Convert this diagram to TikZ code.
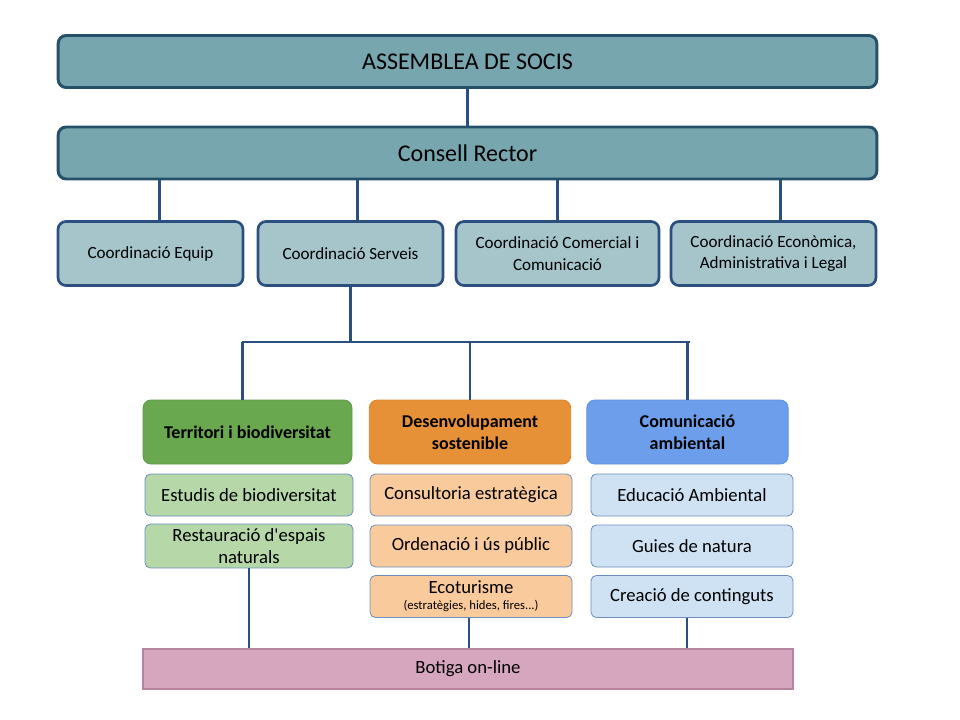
\documentclass[tikz,border=0pt]{standalone}
\usepackage{fontspec}
\setmainfont{Carlito}
\usepackage{xcolor}
\usetikzlibrary{shapes, positioning}

\definecolor{navy}{HTML}{2B4F7E}
\definecolor{headfill}{HTML}{78A6AF}
\definecolor{headline}{HTML}{24506A}
\definecolor{coordfill}{HTML}{A5C5CB}
\definecolor{terrfill}{HTML}{6AA84F}
\definecolor{terrline}{HTML}{5E9A47}
\definecolor{desfill}{HTML}{E69138}
\definecolor{desline}{HTML}{D8812C}
\definecolor{comfill}{HTML}{6D9EEB}
\definecolor{comline}{HTML}{5F8FDC}
\definecolor{terrsub}{HTML}{B6D7A8}
\definecolor{dessub}{HTML}{F9CB9C}
\definecolor{comsub}{HTML}{CFE2F3}
\definecolor{subline}{HTML}{6C8EBF}
\definecolor{botfill}{HTML}{D5A6BD}
\definecolor{botline}{HTML}{B784A0}

\begin{document}
\begin{tikzpicture}[x=0.75pt, y=-0.75pt,
    head/.style={rectangle, rounded corners=6pt, draw=headline, line width=2.2pt, fill=headfill, minimum width=614pt, minimum height=39pt, font=\fontsize{18}{20}\selectfont},
    coordbox/.style={rectangle, rounded corners=6pt, draw=navy, line width=2pt, fill=coordfill, minimum height=48pt, align=center, font=\fontsize{12.8}{16}\selectfont},
    cat/.style={rectangle, rounded corners=6pt, draw=#1, line width=0.6pt, minimum width=151pt, minimum height=48pt, align=center, font=\bfseries\fontsize{13.5}{16.5}\selectfont},
    sub/.style={rectangle, rounded corners=4pt, draw=subline, line width=0.6pt, fill=#1, minimum width=151.5pt, minimum height=31.5pt, align=center, font=\fontsize{14}{16}\selectfont},
    link/.style={draw=navy, line width=2.2pt}]
    \useasboundingbox (0,0) rectangle (960,720);

    % top
    \node[head] (assemblea) at (467.5, 61.5) {ASSEMBLEA DE SOCIS};
    \node[head] (consell) at (467.5, 153) {Consell Rector};

    % coordinacions
    \node[coordbox, minimum width=138.75pt] (equip) at (150.5, 253.5) {Coordinació Equip};
    \node[coordbox, minimum width=138.75pt] (serveis) at (350.5, 253.5) {Coordinació Serveis};
    \node[coordbox, minimum width=152.25pt] (comercial) at (557.5, 253.5) {Coordinació Comercial i\\Comunicació};
    \node[coordbox, minimum width=153.75pt] (economica) at (773.5, 253.5) {Coordinació Econòmica,\\Administrativa i Legal};

    % arees
    \node[cat=terrline, fill=terrfill, minimum width=156.75pt] (territori) at (247.5, 432) {Territori i biodiversitat};
    \node[cat=desline, fill=desfill] (desenv) at (470, 432) {Desenvolupament\\sostenible};
    \node[cat=comline, fill=comfill] (comunic) at (687.5, 432) {Comunicació\\ambiental};

    % serveis
    \node[sub=terrsub, minimum width=156pt] (estudis) at (249, 495) {Estudis de biodiversitat};
    \node[sub=terrsub, minimum width=156pt, font=\fontsize{14}{16.5}\selectfont] (restauracio) at (249, 546) {Restauració d\textquotesingle espais\\naturals};
    \node[sub=dessub] (consultoria) at (471, 495) {Consultoria estratègica};
    \node[sub=dessub] (ordenacio) at (471, 546) {Ordenació i ús públic};
    \node[sub=dessub, font=\fontsize{14}{12}\selectfont] (ecoturisme) at (471, 596.5) {Ecoturisme\\{\fontsize{9.5}{10}\selectfont (estratègies, hides, fires...)}};
    \node[sub=comsub] (educacio) at (692, 495) {Educació Ambiental};
    \node[sub=comsub] (guies) at (692, 546) {Guies de natura};
    \node[sub=comsub] (continguts) at (692, 596.5) {Creació de continguts};

    \node[rectangle, draw=botline, line width=1pt, fill=botfill, minimum width=487.5pt, minimum height=30pt, font=\fontsize{14}{16}\selectfont] (botiga) at (468, 669) {Botiga on-line};

    \coordinate (bus) at (350.5, 342);

    \draw[link] (assemblea) -- (consell);
    \draw[link] ([xshift=7pt]equip.north) -- ([xshift=7pt]equip.north |- consell.south)
        ([xshift=5.5pt]serveis.north) -- ([xshift=5.5pt]serveis.north |- consell.south)
        (comercial.north) -- (comercial.north |- consell.south)
        ([xshift=5.5pt]economica.north) -- ([xshift=5.5pt]economica.north |- consell.south);
    \draw[link] (serveis.south) -- (bus);
    \draw[link] ([xshift=-4pt]territori.north |- bus) -- ([xshift=2pt]comunic.north |- bus);
    \draw[link] ([xshift=-4pt]territori.north) -- ([xshift=-4pt]territori.north |- bus)
        (desenv.north) -- (desenv.north |- bus)
        (comunic.north) -- (comunic.north |- bus);
    \draw[link] (restauracio.south) -- (restauracio.south |- botiga.north)
        ([xshift=-1.5pt]ecoturisme.south) -- ([xshift=-1.5pt]ecoturisme.south |- botiga.north)
        ([xshift=-3.75pt]continguts.south) -- ([xshift=-3.75pt]continguts.south |- botiga.north);
\end{tikzpicture}
\end{document}
